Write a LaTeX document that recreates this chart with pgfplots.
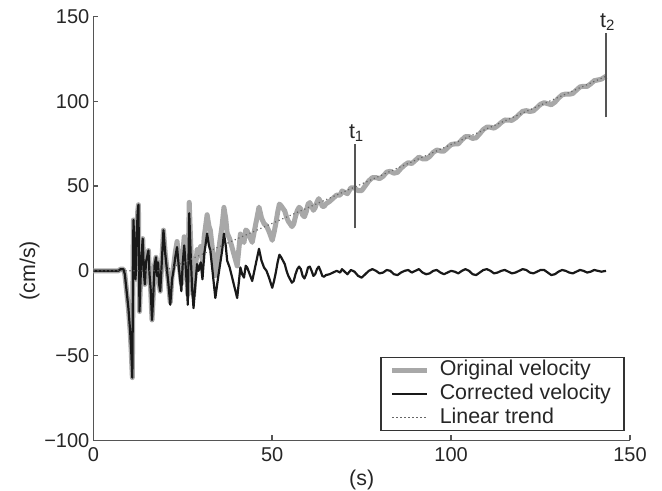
\documentclass[border=0pt]{standalone}
\usepackage{fontspec}
\setmainfont{Liberation Sans}
\usepackage{pgfplots}
\pgfplotsset{compat=1.18}
\definecolor{origgray}{HTML}{A8A8A8}
\definecolor{axgray}{HTML}{555555}
\begin{document}
\begin{tikzpicture}
\path[use as bounding box] (-46.7pt,-25.2pt) rectangle (284.5pt,220.3pt);
\begin{axis}[
  scale only axis, width=268.5pt, height=212pt,
  at={(0,0)}, anchor=south west,
  xmin=0, xmax=150, ymin=-100, ymax=150,
  axis x line*=bottom, axis y line*=left,
  axis line style={-, axgray, line width=0.8pt},
  tick style={axgray, line width=0.8pt},
  tick align=inside, major tick length=2.5pt,
  xtick={0,50,100,150}, xticklabels={0,50,100,150},
  ytick={-100,-50,0,50,100,150}, yticklabels={−100,−50,0,50,100,150},
  tick label style={font=\fontsize{10}{12}\selectfont, text=black!85},
  yticklabel style={xshift=1.5pt},
  xlabel={(s)}, ylabel={(cm/s)},
  label style={font=\fontsize{10.7}{12.8}\selectfont, text=black!85},
  xlabel style={at={(axis description cs:0.5,-0.0927)}, anchor=center},
  ylabel style={at={(axis description cs:-0.119,0.4)}, anchor=center},
  legend cell align=left,
  legend image code/.code={\draw[#1] (0pt,0pt) -- (17.5pt,0pt);},
  legend style={at={(axis description cs:0.990,0.022)}, anchor=south east,
    draw=black!80, line width=0.7pt, inner xsep=4.5pt, inner ysep=0.3pt,
    /tikz/column sep=3pt,
    font=\fontsize{10.7}{12.8}\selectfont, text=black!85,
    nodes={text height=7.7pt, text depth=2.2pt, inner ysep=1pt}},
  clip=false,
]
\addplot[origgray, line width=2.5pt, line join=round] coordinates {
(0,0) (7,0) (7.6,1) (8.4,1) (8.8,-2) (9.3,-12) (9.8,-22) (10.3,-36) (10.6,-48) (10.9,-63)
(11.2,30) (11.5,15) (11.8,-5) (12.1,20) (12.4,35) (12.6,39) (12.9,-24) (13.2,-5) (13.5,10) (13.8,19)
(14.1,0) (14.4,-8) (14.7,5) (15.0,8) (15.4,12) (15.7,-2) (16.0,-10) (16.4,-29) (16.8,-12) (17.1,3)
(17.5,8) (17.8,-3) (18.1,5) (18.4,-8) (18.7,-12) (19.0,0) (19.3,12) (19.6,24)
(20.1,10.2) (20.6,0.7) (21.0,-7.0) (21.5,-18.5) (22.0,-3.0) (22.4,2.3) (22.9,10.8) (23.4,17.3) (23.9,5.7) (24.3,-1.9)
(24.6,-7.6) (25.0,9.8) (25.4,20.1) (25.9,5.6) (26.4,-14.0) (26.8,40.4) (27.2,16.8) (27.6,-2.8) (28.0,-14.5) (28.5,0.0)
(29.0,12.5) (29.4,8.8) (30.0,14.4) (30.5,4.9) (31.0,20.3) (31.8,33.1) (32.3,26.5) (32.7,23.9) (33.4,10.6) (34.1,-2.8)
(34.8,8.9) (35.5,19.5) (36.0,27.0) (36.5,37.4) (37.0,30.9) (37.4,22.3) (38.1,18.9) (38.8,13.6) (39.5,8.2) (40.2,2.9)
(40.7,13.4) (41.1,21.7) (41.6,18.2) (42.1,16.7) (42.6,24.1) (43.0,23.5) (43.7,20.1) (44.4,16.8) (45.0,23.4) (45.6,29.9)
(46.3,37.6) (47.0,31.2) (47.7,27.9) (48.4,26.5) (49.1,23.2)
(50.0,18.0) (50.5,22.5) (51.0,27.9) (51.5,34.4) (52.0,39.4) (52.5,38.3) (53.0,36.8) (53.5,35.3) (54.0,31.7) (54.5,29.2)
(55.0,27.7) (55.5,26.1) (56.0,27.6) (56.5,32.0) (57.0,35.5) (57.5,37.5) (58.0,36.4) (58.5,32.9) (59.0,31.9) (59.5,34.8)
(60.0,39.3) (60.5,40.3) (61.0,38.2) (61.5,35.7) (62.0,37.2) (62.5,40.6) (63.0,42.6) (63.5,40.6) (64.0,38.0) (64.5,38.0)
(65.0,39.5) (66.0,40.9) (67.0,42.8) (68.0,44.7) (69.0,44.7) (69.5,47.1) (70.0,46.6) (71.0,45.5) (72.0,49.0) (73.0,48.9)
(74.0,47.3) (75.0,47.3) (76.0,50.2) (77.0,53.1) (78.0,55.0) (79.0,55.0) (80.0,54.4) (81.0,55.8) (82.0,58.3) (83.0,58.7)
(84.0,57.6) (85.0,58.1) (86.0,60.5) (87.0,62.4) (88.0,63.8) (89.0,63.3) (90.0,65.2) (91.0,67.1) (92.0,66.1) (93.0,66.0)
(94.0,67.4) (95.0,69.9) (96.0,71.3) (97.0,70.7) (98.0,70.6) (99.0,72.6) (100.0,74.5) (101.0,74.9) (102.0,74.9) (103.0,77.3)
(104.0,79.2) (105.0,79.2) (106.0,78.1) (107.0,78.5) (108.0,80.9) (109.0,83.4) (110.0,84.8) (111.0,84.7) (112.0,84.2) (113.0,85.6)
(114.0,87.5) (115.0,89.0) (116.0,88.9) (117.0,88.8) (118.0,90.2) (119.0,92.2) (120.0,94.1) (121.0,94.5) (122.0,94.0) (123.0,94.4)
(124.0,96.3) (125.0,98.3) (126.0,99.2) (127.0,98.6) (128.0,98.0) (129.0,99.5) (130.0,101.9) (131.0,103.8) (132.0,104.3) (133.0,104.2)
(134.0,104.6) (135.0,106.6) (136.0,108.5) (137.0,108.9) (138.0,108.8) (139.0,110.3) (140.0,112.2) (141.0,112.6) (142.0,113.1) (143.3,114.8)
};
\addlegendentry{Original velocity}
\addplot[black!90, line width=1.1pt, line join=round] coordinates {
(0,0) (7,0) (7.6,1) (8.4,1) (8.8,-2) (9.3,-12) (9.8,-22) (10.3,-36) (10.6,-48) (10.9,-63)
(11.2,30) (11.5,15) (11.8,-5) (12.1,20) (12.4,35) (12.6,39) (12.9,-24) (13.2,-5) (13.5,10) (13.8,19)
(14.1,0) (14.4,-8) (14.7,5) (15.0,8) (15.4,12) (15.7,-2) (16.0,-10) (16.4,-29) (16.8,-12) (17.1,3)
(17.5,8) (17.8,-3) (18.1,5) (18.4,-8) (18.7,-12) (19.0,0) (19.3,12) (19.6,24)
(20.1,10) (20.6,0) (21.0,-8) (21.5,-20) (22.0,-5) (22.4,0) (22.9,8) (23.4,14) (23.9,2) (24.3,-6)
(24.6,-12) (25.0,5) (25.4,15) (25.9,0) (26.4,-20) (26.8,34) (27.2,10) (27.6,-10) (28.0,-22) (28.5,-8)
(29.0,4) (29.4,0) (30.0,5) (30.5,-5) (31.0,10) (31.8,22) (32.3,15) (32.7,12) (33.4,-2) (34.1,-16)
(34.8,-5) (35.5,5) (36.0,12) (36.5,22) (37.0,15) (37.4,6) (38.1,2) (38.8,-4) (39.5,-10) (40.2,-16)
(40.7,-6) (41.1,2) (41.6,-2) (42.1,-4) (42.6,3) (43.0,2) (43.7,-2) (44.4,-6) (45.0,0) (45.6,6)
(46.3,13) (47.0,6) (47.7,2) (48.4,0) (49.1,-4)
(50.0,-10) (50.5,-6) (51.0,-1) (51.5,5) (52.0,9.5) (52.5,8) (53.0,6) (53.5,4) (54.0,0) (54.5,-3)
(55.0,-5) (55.5,-7) (56.0,-6) (56.5,-2) (57.0,1) (57.5,2.5) (58.0,1) (58.5,-3) (59.0,-4.5) (59.5,-2)
(60.0,2) (60.5,2.5) (61.0,0) (61.5,-3) (62.0,-2) (62.5,1) (63.0,2.5) (63.5,0) (64.0,-3) (64.5,-3.5)
(65.0,-2.5) (66.0,-2) (67.0,-1) (68.0,0) (69.0,-1) (69.5,1) (70.0,0) (71.0,-2) (72.0,0.5) (73.0,-0.5)
(74.0,-3) (75.0,-4) (76.0,-2) (77.0,0) (78.0,1) (79.0,0) (80.0,-1.5) (81.0,-1) (82.0,0.5) (83.0,0)
(84.0,-2) (85.0,-2.5) (86.0,-1) (87.0,0) (88.0,0.5) (89.0,-1) (90.0,0) (91.0,1) (92.0,-1) (93.0,-2)
(94.0,-1.5) (95.0,0) (96.0,0.5) (97.0,-1) (98.0,-2) (99.0,-1) (100.0,0) (101.0,-0.5) (102.0,-1.5) (103.0,0)
(104.0,1) (105.0,0) (106.0,-2) (107.0,-2.5) (108.0,-1) (109.0,0.5) (110.0,1) (111.0,0) (112.0,-1.5) (113.0,-1)
(114.0,0) (115.0,0.5) (116.0,-0.5) (117.0,-1.5) (118.0,-1) (119.0,0) (120.0,1) (121.0,0.5) (122.0,-1) (123.0,-1.5)
(124.0,-0.5) (125.0,0.5) (126.0,0.5) (127.0,-1) (128.0,-2.5) (129.0,-2) (130.0,-0.5) (131.0,0.5) (132.0,0) (133.0,-1)
(134.0,-1.5) (135.0,-0.5) (136.0,0.5) (137.0,0) (138.0,-1) (139.0,-0.5) (140.0,0.5) (141.0,0) (142.0,-0.5) (143.3,0)
};
\addlegendentry{Corrected velocity}
\addplot[black!60, line width=0.6pt, dash pattern=on 0.6pt off 1.4pt] coordinates {
(0,0) (19.9,0) (143.3,114.8)
};
\addlegendentry{Linear trend}
\addplot[axgray, line width=1pt, forget plot] coordinates {(73.1,25) (73.1,75)};
\addplot[axgray, line width=1pt, forget plot] coordinates {(143.3,90.5) (143.3,140.5)};
\node[anchor=south, inner sep=1pt, font=\fontsize{10.7}{12.8}\selectfont, text=black!85] at (axis cs:73.6,75) {t\textsubscript{1}};
\node[anchor=south, inner sep=1pt, font=\fontsize{10.7}{12.8}\selectfont, text=black!85] at (axis cs:143.8,140.5) {t\textsubscript{2}};
\end{axis}
\end{tikzpicture}
\end{document}
